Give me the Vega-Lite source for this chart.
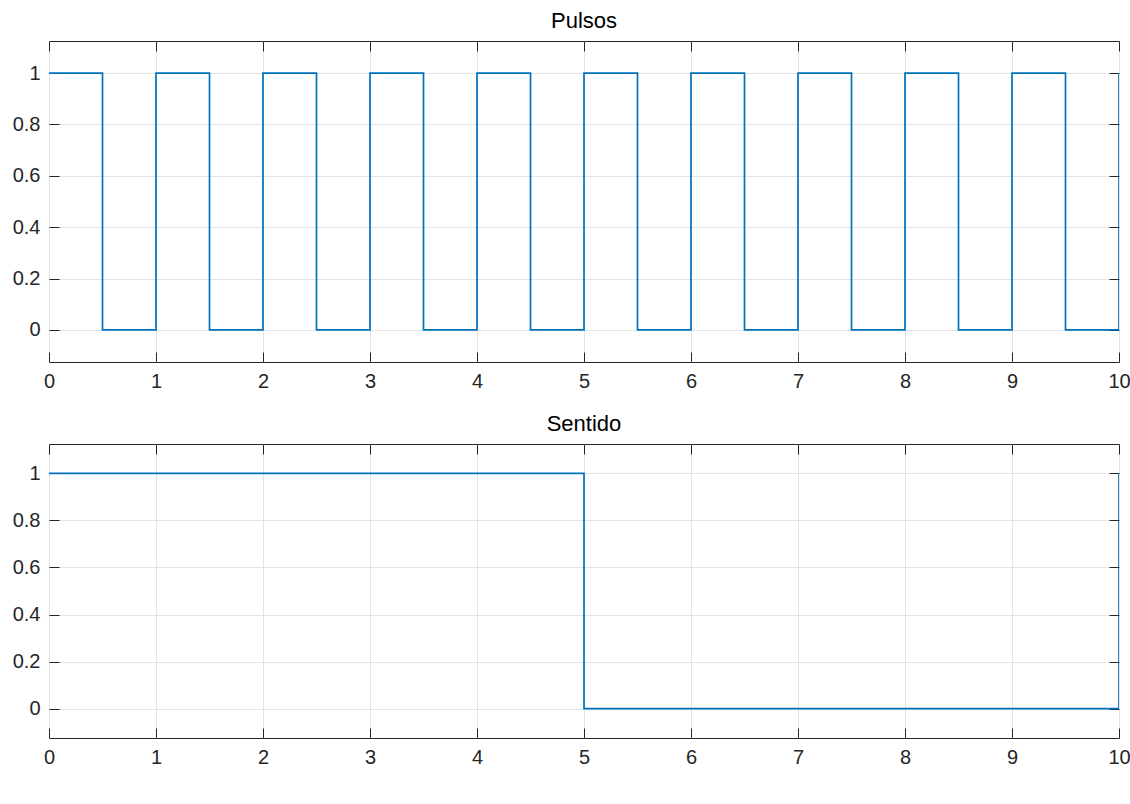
{
  "$schema": "https://vega.github.io/schema/vega-lite/v6.json",
  "background": "white",
  "padding": {"left": 11, "top": 9, "right": 0, "bottom": 5},
  "config": {
    "font": "Liberation Sans",
    "view": {"stroke": "#262626", "strokeWidth": 1},
    "concat": {"spacing": 20},
    "title": {"fontSize": 22, "fontWeight": "normal", "color": "#000000", "offset": 8, "font": "Liberation Sans"},
    "axis": {
      "labelFont": "Liberation Sans",
      "labelFontSize": 20,
      "labelColor": "#262626",
      "tickColor": "#262626",
      "gridColor": "#e3e3e3",
      "gridOpacity": 1,
      "domain": false,
      "title": null
    }
  },
  "datasets": {
    "pulsos": [
      {"t": 0, "v": 1}, {"t": 0.5, "v": 0},
      {"t": 1, "v": 1}, {"t": 1.5, "v": 0},
      {"t": 2, "v": 1}, {"t": 2.5, "v": 0},
      {"t": 3, "v": 1}, {"t": 3.5, "v": 0},
      {"t": 4, "v": 1}, {"t": 4.5, "v": 0},
      {"t": 5, "v": 1}, {"t": 5.5, "v": 0},
      {"t": 6, "v": 1}, {"t": 6.5, "v": 0},
      {"t": 7, "v": 1}, {"t": 7.5, "v": 0},
      {"t": 8, "v": 1}, {"t": 8.5, "v": 0},
      {"t": 9, "v": 1}, {"t": 9.5, "v": 0},
      {"t": 10, "v": 1}
    ],
    "sentido": [
      {"t": 0, "v": 1}, {"t": 5, "v": 0}, {"t": 10, "v": 1}
    ]
  },
  "vconcat": [
    {
      "title": "Pulsos",
      "width": 1070,
      "height": 321,
      "data": {"name": "pulsos"},
      "layer": [
        {
          "mark": {"type": "line", "interpolate": "step-after", "color": "#0072BD", "strokeWidth": 1.7, "clip": true},
          "encoding": {
            "x": {"field": "t", "type": "quantitative", "scale": {"domain": [0, 10], "nice": false},
                  "axis": {"values": [0,1,2,3,4,5,6,7,8,9,10], "tickSize": -10, "labelPadding": 19, "format": "d", "labelFlush": false}},
            "y": {"field": "v", "type": "quantitative", "scale": {"domain": [-0.125, 1.125], "nice": false, "zero": false},
                  "axis": {"values": [0,0.2,0.4,0.6,0.8,1], "tickSize": -10, "labelPadding": 19, "format": "~g"}}
          }
        },
        {
          "mark": {"type": "line", "opacity": 0},
          "encoding": {
            "x": {"field": "t", "type": "quantitative",
                  "axis": {"orient": "top", "values": [0,1,2,3,4,5,6,7,8,9,10], "tickSize": -10, "labels": false, "grid": false}},
            "y": {"field": "v", "type": "quantitative",
                  "axis": {"orient": "right", "values": [0,0.2,0.4,0.6,0.8,1], "tickSize": -10, "labels": false, "grid": false}}
          }
        }
      ],
      "resolve": {"axis": {"x": "independent", "y": "independent"}}
    },
    {
      "title": "Sentido",
      "width": 1070,
      "height": 294,
      "data": {"name": "sentido"},
      "layer": [
        {
          "mark": {"type": "line", "interpolate": "step-after", "color": "#0072BD", "strokeWidth": 1.7, "clip": true},
          "encoding": {
            "x": {"field": "t", "type": "quantitative", "scale": {"domain": [0, 10], "nice": false},
                  "axis": {"values": [0,1,2,3,4,5,6,7,8,9,10], "tickSize": -10, "labelPadding": 19, "format": "d", "labelFlush": false}},
            "y": {"field": "v", "type": "quantitative", "scale": {"domain": [-0.125, 1.125], "nice": false, "zero": false},
                  "axis": {"values": [0,0.2,0.4,0.6,0.8,1], "tickSize": -10, "labelPadding": 19, "format": "~g"}}
          }
        },
        {
          "mark": {"type": "line", "opacity": 0},
          "encoding": {
            "x": {"field": "t", "type": "quantitative",
                  "axis": {"orient": "top", "values": [0,1,2,3,4,5,6,7,8,9,10], "tickSize": -10, "labels": false, "grid": false}},
            "y": {"field": "v", "type": "quantitative",
                  "axis": {"orient": "right", "values": [0,0.2,0.4,0.6,0.8,1], "tickSize": -10, "labels": false, "grid": false}}
          }
        }
      ],
      "resolve": {"axis": {"x": "independent", "y": "independent"}}
    }
  ]
}
